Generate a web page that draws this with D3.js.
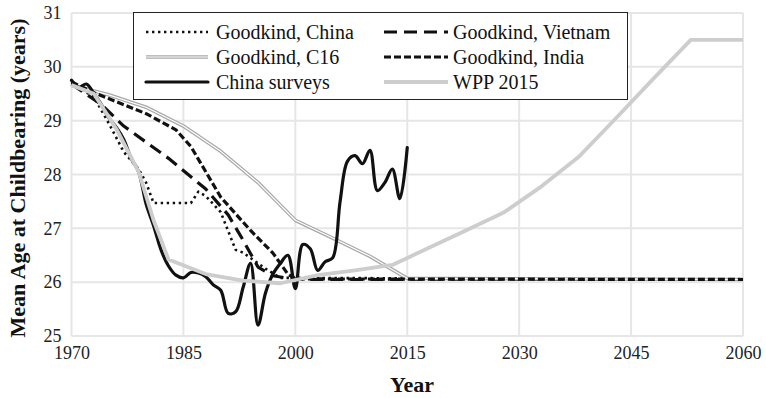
<!DOCTYPE html>
<html>
<head>
<meta charset="utf-8">
<script src="https://cdn.jsdelivr.net/npm/d3@7"></script>
<style>
  html, body { margin: 0; padding: 0; background: #fff; }
  svg { display: block; }
  svg text { font-family: "Liberation Serif", "DejaVu Serif", serif; }
</style>
</head>
<body>
<svg id="chart" width="766" height="398"></svg>
<script>
// ---- data ----
const yearTicks = [1970, 1985, 2000, 2015, 2030, 2045, 2060];
const ageTicks = [25, 26, 27, 28, 29, 30, 31];

const gkChinaYears = [1970, 1973, 1975, 1977, 1979, 1980, 1981, 1986, 1987, 1988, 1990, 1991, 1992, 1993, 1995, 1996, 1998, 2060];
const gkChinaAge   = [29.7, 29.44, 28.95, 28.42, 28.1, 27.85, 27.47, 27.47, 27.68, 27.6, 27.3, 26.95, 26.6, 26.55, 26.35, 26.25, 26.08, 26.05];

const gkVietnamYears = [1970, 1974, 1977, 1980, 1983, 1988, 1991, 1993, 1995, 1997, 2000, 2060];
const gkVietnamAge   = [29.68, 29.3, 28.9, 28.6, 28.3, 27.73, 27.25, 26.78, 26.28, 26.12, 26.05, 26.05];

const gkC16Years = [1970, 1975, 1980, 1985, 1990, 1995, 2000, 2005, 2010, 2015, 2060];
const gkC16Age   = [29.66, 29.48, 29.25, 28.9, 28.43, 27.85, 27.15, 26.82, 26.48, 26.07, 26.05];

const gkIndiaYears = [1970, 1973, 1980, 1984, 1986, 1990, 1994, 1997, 1999, 2000, 2060];
const gkIndiaAge   = [29.72, 29.52, 29.13, 28.83, 28.52, 27.58, 26.96, 26.54, 26.15, 26.06, 26.05];

const surveyYears = d3.range(1970, 2016);
const surveyAge = [29.75, 29.62, 29.68, 29.5, 29.3, 29.05, 28.88, 28.65, 28.3, 28.05,
                   27.45, 27.05, 26.6, 26.3, 26.13, 26.08, 26.18, 26.17, 26.1, 25.95,
                   25.85, 25.42, 25.45, 25.9, 26.35, 25.2, 25.8, 26.15, 26.35, 26.5,
                   25.88, 26.7, 26.62, 26.22, 26.38, 26.45, 27.5, 28.25, 28.35, 28.2,
                   28.45, 27.7, 27.85, 28.1, 27.55, 28.5];

const wppYears = [1970, 1973, 1976, 1979, 1981, 1983, 1988, 1993, 1998, 2003, 2008, 2013, 2015, 2023, 2028, 2033, 2038, 2043, 2048, 2053, 2060];
const wppAge   = [29.66, 29.5, 28.85, 28.05, 27.15, 26.42, 26.15, 26.03, 25.98, 26.13, 26.22, 26.32, 26.45, 26.97, 27.3, 27.78, 28.33, 29.05, 29.78, 30.5, 30.5];

const seriesNames = ["Goodkind, China", "Goodkind, Vietnam", "Goodkind, C16", "Goodkind, India", "China surveys", "WPP 2015"];

// ---- layout ----
const svg = d3.select("#chart");
const serif = "Liberation Serif, DejaVu Serif, serif";

const x = d3.scaleLinear().domain([1970, 2060]).range([71.5, 743]);
const y = d3.scaleLinear().domain([25, 31]).range([336, 13]);

// grid
const grid = svg.append("g").attr("stroke", "#e6e6e6").attr("stroke-width", 2);
grid.selectAll("line.h").data(ageTicks).join("line")
  .attr("x1", x(1970)).attr("x2", x(2060))
  .attr("y1", d => y(d)).attr("y2", d => y(d));
grid.selectAll("line.v").data(yearTicks).join("line")
  .attr("y1", y(25)).attr("y2", y(31))
  .attr("x1", d => x(d)).attr("x2", d => x(d));

// axes (labels only)
const xAxis = svg.append("g")
  .attr("transform", `translate(0,${y(25)})`)
  .call(d3.axisBottom(x).tickValues(yearTicks).tickFormat(d3.format("d")).tickSize(0).tickPadding(10));
const yAxis = svg.append("g")
  .attr("transform", `translate(${x(1970)},0)`)
  .call(d3.axisLeft(y).tickValues(ageTicks).tickFormat(d3.format("d")).tickSize(0).tickPadding(10));
[xAxis, yAxis].forEach(a => {
  a.attr("font-family", serif).attr("font-size", 18);
  a.select(".domain").remove();
  a.selectAll("text").style("font-family", serif).style("font-size", "18px").attr("fill", "#222");
});

// axis titles
svg.append("text")
  .attr("x", 412).attr("y", 392)
  .attr("text-anchor", "middle")
  .style("font-family", serif).style("font-weight", "bold").style("font-size", "22px")
  .attr("fill", "#111")
  .text("Year");
svg.append("text")
  .attr("transform", "translate(25,178) rotate(-90)")
  .attr("text-anchor", "middle")
  .style("font-family", serif).style("font-weight", "bold").style("font-size", "22px")
  .attr("fill", "#111")
  .text("Mean Age at Childbearing (years)");

// series
const pts = (ys, vs) => ys.map((t, i) => [t, vs[i]]);
const straight = d3.line().x(d => x(d[0])).y(d => y(d[1]));
const smooth = d3.line().x(d => x(d[0])).y(d => y(d[1])).curve(d3.curveCatmullRom.alpha(0.5));

const styles = {
  "Goodkind, China":   { stroke: "#111", width: 2.6, dash: "2.4 3.6", cap: "butt" },
  "Goodkind, Vietnam": { stroke: "#111", width: 3.2, dash: "13 7", cap: "butt" },
  "Goodkind, India":   { stroke: "#111", width: 3.2, dash: "7 3", cap: "butt" },
  "China surveys":     { stroke: "#111", width: 3.2, dash: null, cap: "round" },
  "WPP 2015":          { stroke: "#cdcdcd", width: 3.8, dash: null, cap: "butt" }
};

const plot = svg.append("g").attr("fill", "none").attr("stroke-linejoin", "round");

function drawDouble(g, d) {
  g.append("path").attr("d", d).attr("stroke", "#a8a8a8").attr("stroke-width", 3.6);
  g.append("path").attr("d", d).attr("stroke", "#fff").attr("stroke-width", 1.2);
}
function drawStyled(g, d, s) {
  g.append("path").attr("d", d)
    .attr("stroke", s.stroke).attr("stroke-width", s.width)
    .attr("stroke-dasharray", s.dash).attr("stroke-linecap", s.cap);
}

drawStyled(plot, straight(pts(gkChinaYears, gkChinaAge)), styles["Goodkind, China"]);
drawStyled(plot, straight(pts(gkVietnamYears, gkVietnamAge)), styles["Goodkind, Vietnam"]);
drawDouble(plot, straight(pts(gkC16Years, gkC16Age)));
drawStyled(plot, straight(pts(gkIndiaYears, gkIndiaAge)), styles["Goodkind, India"]);
drawStyled(plot, smooth(pts(surveyYears, surveyAge)), styles["China surveys"]);
drawStyled(plot, straight(pts(wppYears, wppAge)), styles["WPP 2015"]);

// legend
const legend = svg.append("g");
legend.append("rect")
  .attr("x", 133.5).attr("y", 12.5).attr("width", 494).attr("height", 87)
  .attr("fill", "#fff").attr("stroke", "#222").attr("stroke-width", 1);

const legendRows = [32, 57, 82];
const legendCols = [{ x1: 146, x2: 208, tx: 216 }, { x1: 384, x2: 448, tx: 453 }];
seriesNames.forEach((name, i) => {
  const col = legendCols[i % 2];
  const ry = legendRows[Math.floor(i / 2)];
  const seg = d3.line()([[col.x1, ry], [col.x2, ry]]);
  const g = legend.append("g").attr("fill", "none");
  if (name === "Goodkind, C16") drawDouble(g, seg);
  else drawStyled(g, seg, styles[name]);
  legend.append("text")
    .attr("x", col.tx).attr("y", ry).attr("dy", "0.35em")
    .style("font-family", serif).style("font-size", "20px").attr("fill", "#111")
    .text(name);
});
</script>
</body>
</html>
